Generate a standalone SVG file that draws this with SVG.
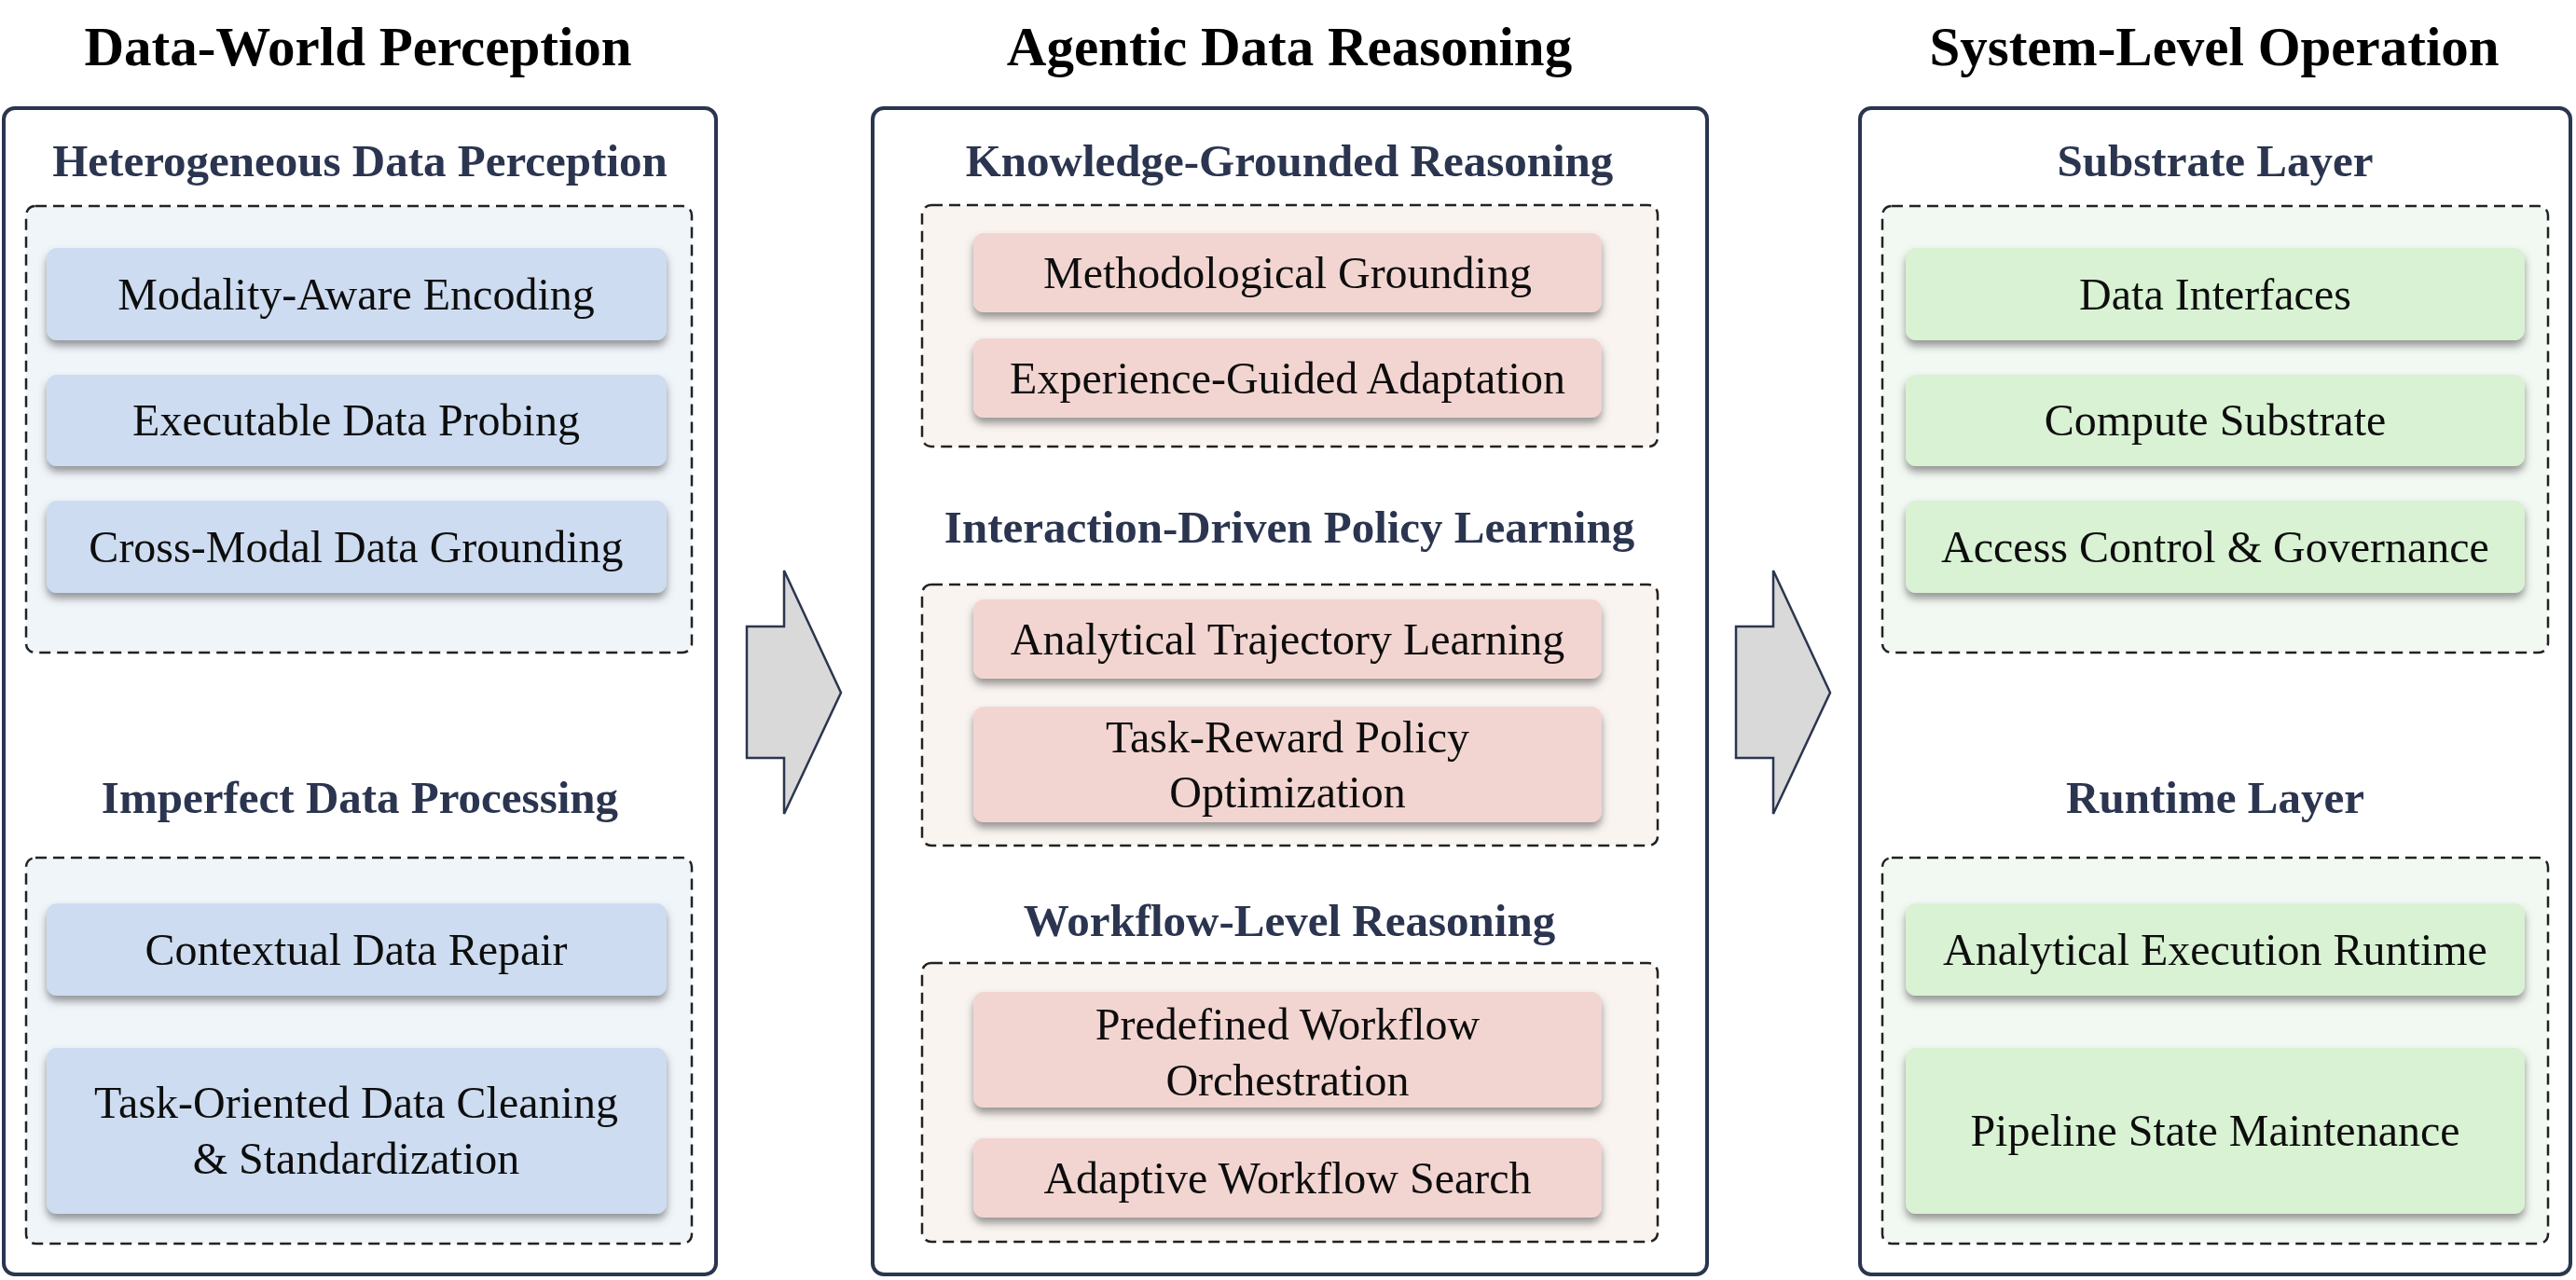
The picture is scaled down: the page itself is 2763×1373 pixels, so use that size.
<svg xmlns="http://www.w3.org/2000/svg" width="2763" height="1373" viewBox="0 0 2763 1373">
<style>
.panel{fill:#fff;stroke:#2b3550;stroke-width:4}
.dash{stroke:#222;stroke-width:2.5;stroke-dasharray:12 7}
.b{fill:#cddcf0}.r{fill:#f2d5d1}.g{fill:#d8f2d3}
.t{font-family:"Liberation Serif",serif;font-size:59px;font-weight:bold;fill:#000;text-anchor:middle}
.s{font-family:"Liberation Serif",serif;font-size:49px;font-weight:bold;fill:#2b3550;text-anchor:middle}
.n{font-family:"Liberation Serif",serif;font-size:48px;fill:#111;text-anchor:middle}
.arrow{fill:#d9d9d9;stroke:#2b3550;stroke-width:2.5}
</style>
<defs>
<filter id="sh" x="-5%" y="-20%" width="110%" height="150%">
<feDropShadow dx="0" dy="6" stdDeviation="4" flood-color="#555" flood-opacity="0.6"/>
</filter>
</defs>
<rect width="2763" height="1373" fill="#fff"/>
<text class="t" x="384" y="70">Data-World Perception</text>
<text class="t" x="1383" y="70">Agentic Data Reasoning</text>
<text class="t" x="2375" y="70">System-Level Operation</text>

<g id="panel-left">
<rect class="panel" x="4" y="116" width="764" height="1251" rx="12"/>
<text class="s" x="386" y="189">Heterogeneous Data Perception</text>
<rect class="dash" fill="#f0f5fa" x="28" y="221" width="714" height="479" rx="10"/>
<text class="s" x="386" y="872">Imperfect Data Processing</text>
<rect class="dash" fill="#f0f5fa" x="28" y="920" width="714" height="414" rx="10"/>
</g>
<g id="n-modality" filter="url(#sh)"><rect class="b" x="50" y="266" width="665" height="99" rx="11"/><text class="n" x="382" y="332">Modality-Aware Encoding</text></g>
<g id="n-probing" filter="url(#sh)"><rect class="b" x="50" y="402" width="665" height="98" rx="11"/><text class="n" x="382" y="467">Executable Data Probing</text></g>
<g id="n-grounding" filter="url(#sh)"><rect class="b" x="50" y="537" width="665" height="99" rx="11"/><text class="n" x="382" y="603">Cross-Modal Data Grounding</text></g>
<g id="n-repair" filter="url(#sh)"><rect class="b" x="50" y="969" width="665" height="99" rx="11"/><text class="n" x="382" y="1035">Contextual Data Repair</text></g>
<g id="n-cleaning" filter="url(#sh)"><rect class="b" x="50" y="1124" width="665" height="178" rx="11"/><text class="n" x="382" y="1199">Task-Oriented Data Cleaning</text><text class="n" x="382" y="1259">&amp; Standardization</text></g>

<g id="panel-mid">
<rect class="panel" x="936" y="116" width="895" height="1251" rx="12"/>
<text class="s" x="1383" y="189">Knowledge-Grounded Reasoning</text>
<rect class="dash" fill="#f9f4ef" x="989" y="220" width="789" height="259" rx="10"/>
<text class="s" x="1383" y="582">Interaction-Driven Policy Learning</text>
<rect class="dash" fill="#f9f4ef" x="989" y="627" width="789" height="280" rx="10"/>
<text class="s" x="1383" y="1004">Workflow-Level Reasoning</text>
<rect class="dash" fill="#f9f4ef" x="989" y="1033" width="789" height="299" rx="10"/>
</g>
<g id="n-method" filter="url(#sh)"><rect class="r" x="1044" y="250" width="674" height="85" rx="11"/><text class="n" x="1381" y="309">Methodological Grounding</text></g>
<g id="n-experience" filter="url(#sh)"><rect class="r" x="1044" y="363" width="674" height="85" rx="11"/><text class="n" x="1381" y="422">Experience-Guided Adaptation</text></g>
<g id="n-trajectory" filter="url(#sh)"><rect class="r" x="1044" y="643" width="674" height="85" rx="11"/><text class="n" x="1381" y="702">Analytical Trajectory Learning</text></g>
<g id="n-reward" filter="url(#sh)"><rect class="r" x="1044" y="758" width="674" height="124" rx="11"/><text class="n" x="1381" y="807">Task-Reward Policy</text><text class="n" x="1381" y="866">Optimization</text></g>
<g id="n-predefined" filter="url(#sh)"><rect class="r" x="1044" y="1064" width="674" height="124" rx="11"/><text class="n" x="1381" y="1115">Predefined Workflow</text><text class="n" x="1381" y="1175">Orchestration</text></g>
<g id="n-adaptive" filter="url(#sh)"><rect class="r" x="1044" y="1221" width="674" height="85" rx="11"/><text class="n" x="1381" y="1280">Adaptive Workflow Search</text></g>

<g id="panel-right">
<rect class="panel" x="1995" y="116" width="762" height="1251" rx="12"/>
<text class="s" x="2376" y="189">Substrate Layer</text>
<rect class="dash" fill="#f2f8f2" x="2019" y="221" width="714" height="479" rx="10"/>
<text class="s" x="2376" y="872">Runtime Layer</text>
<rect class="dash" fill="#f2f8f2" x="2019" y="920" width="714" height="414" rx="10"/>
</g>
<g id="n-interfaces" filter="url(#sh)"><rect class="g" x="2044" y="266" width="664" height="99" rx="11"/><text class="n" x="2376" y="332">Data Interfaces</text></g>
<g id="n-compute" filter="url(#sh)"><rect class="g" x="2044" y="402" width="664" height="98" rx="11"/><text class="n" x="2376" y="467">Compute Substrate</text></g>
<g id="n-access" filter="url(#sh)"><rect class="g" x="2044" y="537" width="664" height="99" rx="11"/><text class="n" x="2376" y="603">Access Control &amp; Governance</text></g>
<g id="n-runtime" filter="url(#sh)"><rect class="g" x="2044" y="969" width="664" height="99" rx="11"/><text class="n" x="2376" y="1035">Analytical Execution Runtime</text></g>
<g id="n-pipeline" filter="url(#sh)"><rect class="g" x="2044" y="1124" width="664" height="178" rx="11"/><text class="n" x="2376" y="1229">Pipeline State Maintenance</text></g>

<g id="connectors">
<polygon class="arrow" points="801,672 841,672 841,612 902,743 841,873 841,813 801,813"/>
<polygon class="arrow" points="1862,672 1902,672 1902,612 1963,743 1902,873 1902,813 1862,813"/>
</g>
</svg>
